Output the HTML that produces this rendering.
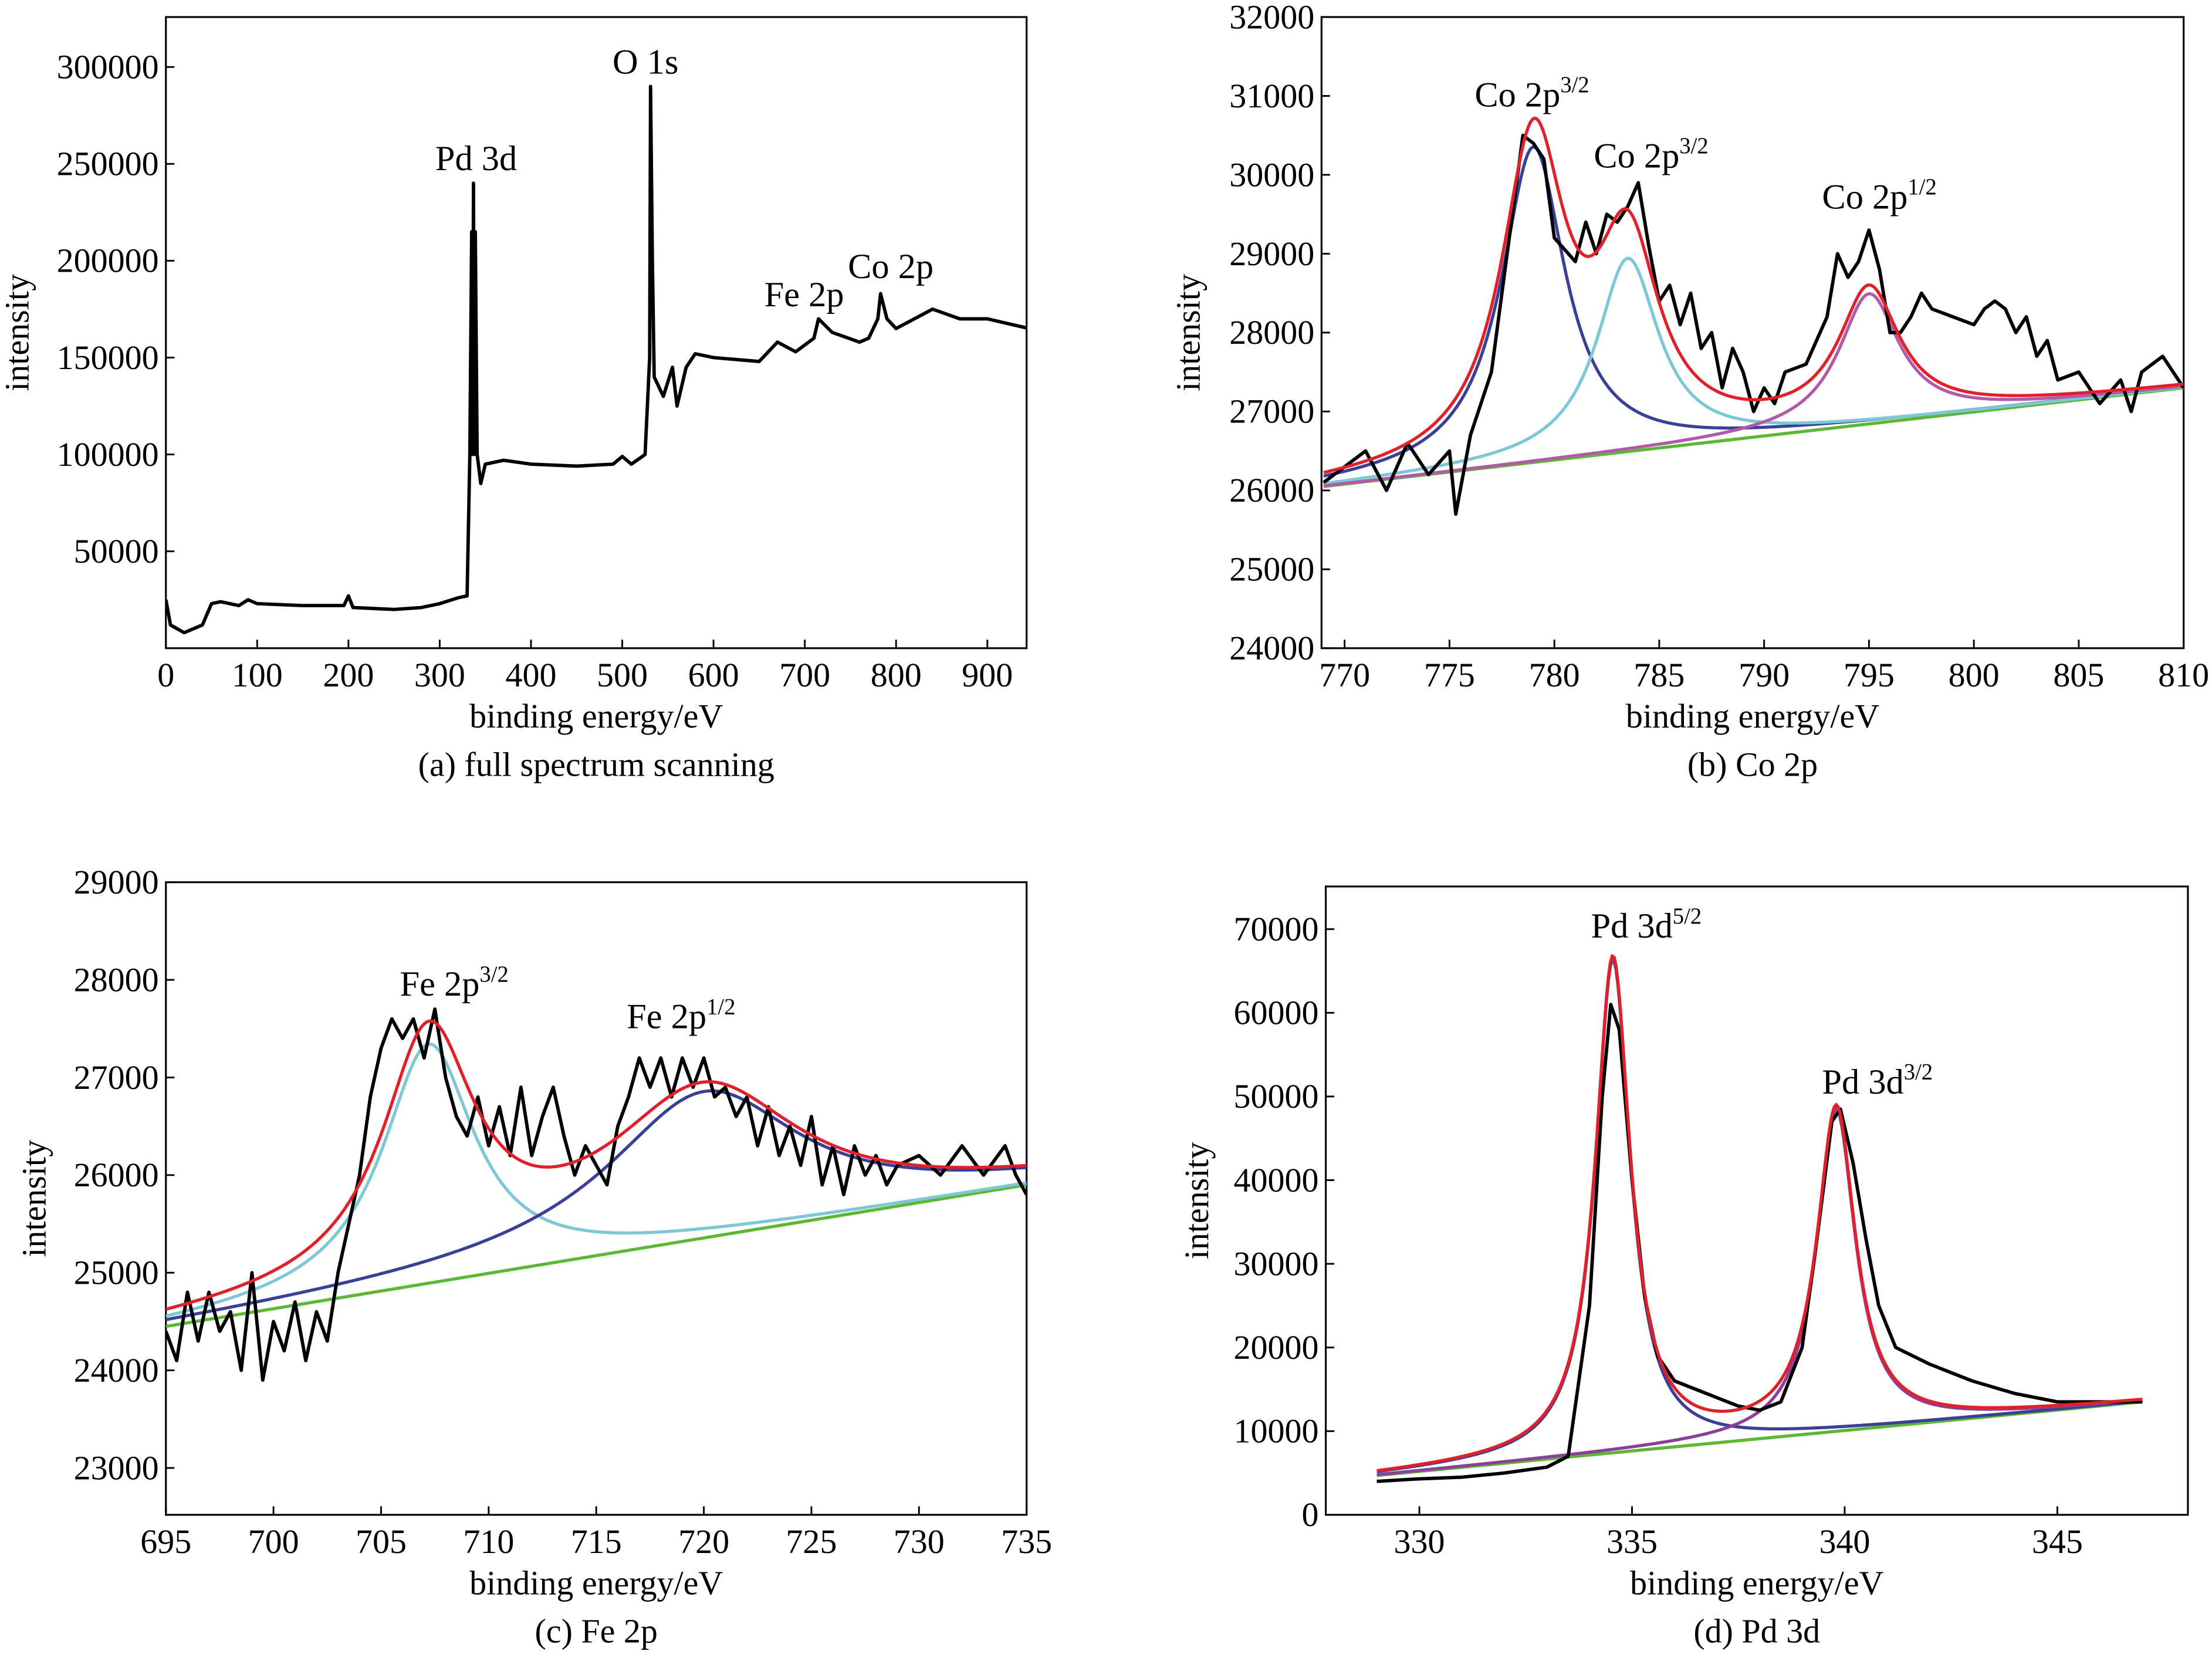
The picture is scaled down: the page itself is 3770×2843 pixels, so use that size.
<!DOCTYPE html>
<html><head><meta charset="utf-8"><style>
html,body{margin:0;padding:0;background:#fff;}
svg{display:block;}
text{font-family:"Liberation Serif","DejaVu Serif",serif;fill:#000;}
</style></head><body>
<svg id="fig" width="3770" height="2843" viewBox="0 0 1560 1176" preserveAspectRatio="none" xmlns="http://www.w3.org/2000/svg"></svg>
<script>
// ---- Panel (a) full spectrum data ----
const aEnergy=[0,5,20,30,40,50,60,80,90,100,150,195,200,205,250,280,300,320,330,333,335,336,337,338,339,341,345,350,370,400,450,490,500,510,525,530,531,533,535,545,555,560,570,580,600,650,670,690,710,715,730,760,770,780,783,790,800,820,840,870,900,946];
const aIntensity=[25000,12000,8000,10000,12000,23000,24000,22000,25000,23000,22000,22000,27000,21000,20000,21000,23000,26000,27000,100000,215000,100000,240000,100000,215000,100000,85000,95000,97000,95000,94000,95000,99000,95000,100000,150000,290000,200000,140000,130000,145000,125000,145000,152000,150000,148000,158000,153000,160000,170000,163000,158000,160000,170000,183000,170000,165000,170000,175000,170000,170000,165000];
const aXTicks=[0,100,200,300,400,500,600,700,800,900];
const aYTicks=[50000,100000,150000,200000,250000,300000];
// ---- Panel (b) Co 2p ----
const bEnergy=[769,770,771,772,773,774,775,775.3,776,777,778,778.5,779,779.5,780,781,781.5,782,782.5,783,783.5,784,784.5,785,785.5,786,786.5,787,787.5,788,788.5,789,789.5,790,790.5,791,792,793,793.5,794,794.5,795,795.5,796,796.5,797,797.5,798,799,800,800.5,801,801.5,802,802.5,803,803.5,804,805,806,807,807.5,808,809,809.5,810];
const bIntensity=[26100,26300,26500,26000,26600,26200,26500,25700,26700,27500,29500,30500,30400,30200,29200,28900,29400,29000,29500,29400,29600,29900,29100,28400,28600,28100,28500,27800,28000,27300,27800,27500,27000,27300,27100,27500,27600,28200,29000,28700,28900,29300,28800,28000,28000,28200,28500,28300,28200,28100,28300,28400,28300,28000,28200,27700,27900,27400,27500,27100,27400,27000,27500,27700,27500,27300];
const bBaseline=[[769,26050],[810,27300]];
const bPeakCenters=[779,783.5,795];
const bPeakHeights=[4000,2450,1650];
const bPeakWidths=[1.85,1.8,1.75];
const bXTicks=[770,775,780,785,790,795,800,805,810];
const bYTicks=[24000,25000,26000,27000,28000,29000,30000,31000,32000];
// ---- Panel (c) Fe 2p ----
const cEnergy=[695,695.5,696,696.5,697,697.5,698,698.5,699,699.5,700,700.5,701,701.5,702,702.5,703,703.5,704,704.5,705,705.5,706,706.5,707,707.5,708,708.5,709,709.5,710,710.5,711,711.5,712,712.5,713,713.5,714,714.5,715,715.5,716,716.5,717,717.5,718,718.5,719,719.5,720,720.5,721,721.5,722,722.5,723,723.5,724,724.5,725,725.5,726,726.5,727,727.5,728,728.5,729,730,731,732,733,734,734.5,735];
const cIntensity=[24400,24100,24800,24300,24800,24400,24600,24000,25000,23900,24500,24200,24700,24100,24600,24300,25000,25500,26000,26800,27300,27600,27400,27600,27200,27700,27000,26600,26400,26800,26300,26700,26200,26900,26200,26600,26900,26400,26000,26300,26100,25900,26500,26800,27200,26900,27200,26800,27200,26900,27200,26800,26900,26600,26800,26300,26700,26200,26500,26100,26600,25900,26300,25800,26300,26000,26200,25900,26100,26200,26000,26300,26000,26300,26000,25800];
const cBaseline=[[695,24450],[735,25900]];
const cPeakCenters=[707.2,720];
const cPeakHeights=[2450,1500];
const cPeakWidths=[2.6,5.5];
const cXTicks=[695,700,705,710,715,720,725,730,735];
const cYTicks=[23000,24000,25000,26000,27000,28000,29000];
// ---- Panel (d) Pd 3d ----
const dEnergy=[329,330,331,332,333,333.5,334,334.3,334.5,334.7,335,335.3,335.6,336,336.5,337,337.5,338,338.5,339,339.4,339.7,339.9,340.2,340.5,340.8,341.2,342,343,344,345,346,347];
const dIntensity=[4000,4300,4500,5000,5700,7000,25000,50000,61000,58000,40000,26000,19000,16000,15000,14000,13000,12500,13500,20000,35000,47000,48500,42000,33000,25000,20000,18000,16000,14500,13500,13500,13500];
const dBaseline=[[329,4700],[347,13500]];
const dPeakCenters=[334.55,339.8];
const dPeakHeights=[59000,38500];
const dPeakWidths=[0.5,0.55];
const dXTicks=[330,335,340,345];
const dYTicks=[0,10000,20000,30000,40000,50000,60000,70000];

const NS="http://www.w3.org/2000/svg";
const svg=document.getElementById('fig');
function mk(tag,attrs,parent){const e=document.createElementNS(NS,tag);for(const k in attrs)e.setAttribute(k,attrs[k]);(parent||svg).appendChild(e);return e;}

function panel(cfg){
  const g=mk('g',{});
  
  
  const X=e=>cfg.x0+(e-cfg.xmin)/(cfg.xmax-cfg.xmin)*(cfg.x1-cfg.x0);
  const Y=v=>cfg.y1-(v-cfg.ymin)/(cfg.ymax-cfg.ymin)*(cfg.y1-cfg.y0);
  const clip='clip-'+cfg.name;
  const cp=mk('clipPath',{id:clip},g);
  mk('rect',{x:cfg.x0,y:cfg.y0,width:cfg.x1-cfg.x0,height:cfg.y1-cfg.y0},cp);
  const fr=mk('rect',{x:cfg.x0,y:cfg.y0,width:cfg.x1-cfg.x0,height:cfg.y1-cfg.y0,fill:'none',stroke:'#000','stroke-width':1.3},g);
  
  
  cfg.xticks.forEach(t=>{
    const px=X(t);
    const l=mk('line',{x1:px,x2:px,y1:cfg.y1,y2:cfg.y1-6,stroke:'#000','stroke-width':1.2},g);
    
    
    const tx=mk('text',{x:px,y:cfg.y1+27,'font-size':24,'text-anchor':'middle'},g);
    tx.textContent=t;
    
    
  });
  cfg.yticks.forEach(t=>{
    const py=Y(t);
    const l=mk('line',{x1:cfg.x0,x2:cfg.x0+6,y1:py,y2:py,stroke:'#000','stroke-width':1.2},g);
    
    
    const tx=mk('text',{x:cfg.x0-5,y:py+8,'font-size':24,'text-anchor':'end'},g);
    tx.textContent=t;
    
    
  });
  const inner=mk('g',{'clip-path':'url(#'+clip+')'},g);
  const base=e=>{const b=cfg.base;if(!b)return 0;return b[0][1]+(e-b[0][0])/(b[1][0]-b[0][0])*(b[1][1]-b[0][1]);};
  const lor=(e,i)=>cfg.heights[i]/(1+Math.pow((e-cfg.centers[i])/cfg.widths[i],2));
  const fitLine=(fn,color,name)=>{
    let d='';const n=400;
    for(let k=0;k<=n;k++){const e=cfg.base[0][0]+(cfg.base[1][0]-cfg.base[0][0])*k/n;d+=(k?'L':'M')+X(e).toFixed(2)+','+Y(fn(e)).toFixed(2);}
    const p=mk('path',{d:d,fill:'none',stroke:color,'stroke-width':2.2},inner);
    
    
  };
  if(cfg.base){
    fitLine(e=>base(e),'#5cb832','baseline-fit');
    cfg.colors.forEach((c,i)=>fitLine(e=>base(e)+lor(e,i),c,'peak-fit-'+(i+1)));
  }
  let d='';
  cfg.ex.forEach((e,k)=>{d+=(k?'L':'M')+X(e).toFixed(2)+','+Y(cfg.iy[k]).toFixed(2);});
  const p=mk('path',{d:d,fill:'none',stroke:'#000','stroke-width':2.4,'stroke-linejoin':'round'},inner);
  
  
  if(cfg.base){
    fitLine(e=>{let s=base(e);cfg.centers.forEach((c,i)=>s+=lor(e,i));return s;},'#e0202a','envelope-fit');
  }
  const xl=mk('text',{x:(cfg.x0+cfg.x1)/2,y:cfg.y1+56,'font-size':24,'text-anchor':'middle'},g);
  xl.textContent='binding energy/eV';
  
  
  const yl=mk('text',{x:0,y:0,'font-size':24,'text-anchor':'middle',transform:'translate('+cfg.ylx+','+((cfg.y0+cfg.y1)/2)+') rotate(-90)'},g);
  yl.textContent='intensity';
  
  
  const cap=mk('text',{x:(cfg.x0+cfg.x1)/2,y:cfg.y1+90,'font-size':24,'text-anchor':'middle'},g);
  cap.textContent=cfg.caption;
  
  
  cfg.annots.forEach(a=>{
    const t=mk('text',{x:a[0],y:a[1],'font-size':25},g);
    t.textContent=a[2];
    if(a[3]){const s=mk('tspan',{'font-size':16,dy:-10},t);s.textContent=a[3];}
    
    
  });
}

panel({name:'panel-a-full-spectrum',x0:117,x1:724,y0:12,y1:457,xmin:0,xmax:943,ymin:0,ymax:325800,
  xticks:aXTicks,yticks:aYTicks,ex:aEnergy,iy:aIntensity,ylx:20,caption:'(a) full spectrum scanning',
  annots:[[307,120,'Pd 3d'],[432,52,'O 1s'],[539,216,'Fe 2p'],[598,196,'Co 2p']]});
panel({name:'panel-b-co2p',x0:932,x1:1540,y0:12,y1:457,xmin:768.9,xmax:810,ymin:24000,ymax:32000,
  xticks:bXTicks,yticks:bYTicks,ex:bEnergy,iy:bIntensity,ylx:846,caption:'(b) Co 2p',
  base:bBaseline,centers:bPeakCenters,heights:bPeakHeights,widths:bPeakWidths,colors:['#3a3f98','#7ec8d6','#b05aa8'],
  annots:[[1040,75,'Co 2p','3/2'],[1124,118,'Co 2p','3/2'],[1285,147,'Co 2p','1/2']]});
panel({name:'panel-c-fe2p',x0:117,x1:724,y0:622,y1:1068,xmin:695,xmax:735,ymin:22520,ymax:29000,
  xticks:cXTicks,yticks:cYTicks,ex:cEnergy,iy:cIntensity,ylx:32,caption:'(c) Fe 2p',
  base:cBaseline,centers:cPeakCenters,heights:cPeakHeights,widths:cPeakWidths,colors:['#7ec8d6','#3a3f98'],
  annots:[[282,702,'Fe 2p','3/2'],[442,725,'Fe 2p','1/2']]});
panel({name:'panel-d-pd3d',x0:935,x1:1543,y0:625,y1:1068,xmin:327.8,xmax:348.07,ymin:0,ymax:75100,
  xticks:dXTicks,yticks:dYTicks,ex:dEnergy,iy:dIntensity,ylx:852,caption:'(d) Pd 3d',
  base:dBaseline,centers:dPeakCenters,heights:dPeakHeights,widths:dPeakWidths,colors:['#3a3f98','#8a3f98'],
  annots:[[1122,661,'Pd 3d','5/2'],[1285,771,'Pd 3d','3/2']]});
</script>
</body></html>
